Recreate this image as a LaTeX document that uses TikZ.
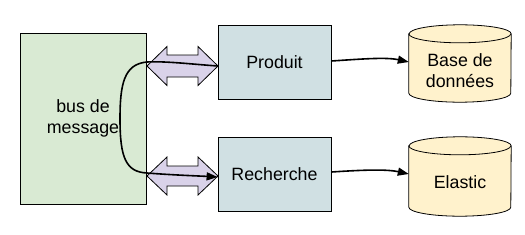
\documentclass[tikz,border=0pt]{standalone}
\usepackage{fontspec}
\setmainfont{Liberation Sans}
\usetikzlibrary{arrows.meta,calc}
\definecolor{busgreen}{HTML}{D9EAD3}
\definecolor{svcblue}{HTML}{D0E0E3}
\definecolor{dbyellow}{HTML}{FFF2CC}
\definecolor{lavender}{HTML}{D9D2E9}
\begin{document}
\begin{tikzpicture}[x=1pt,y=1pt,
  font=\fontsize{17.8}{21}\selectfont,
  box/.style={draw=black, line width=0.8pt, align=center, inner sep=0pt},
  cylbox/.style={minimum width=102pt, inner sep=0pt},
  lbl/.style={align=center, inner sep=0pt},
  cyl/.style={draw=black, line width=0.8pt, fill=dbyellow},
  dblarrow/.style={draw=black, line width=0.8pt, fill=lavender, line join=miter},
  conn/.style={line width=1.6pt, -{Triangle[length=11pt,width=8pt]}},
  link/.style={line width=1.6pt}]
\useasboundingbox (0,0) rectangle (525,234);
\fill[white] (0,0) rectangle (525,234);

% boxes
\node[box, fill=busgreen, minimum width=126pt, minimum height=171pt] (bus) at (83,115.5) {bus de\\message};
\node[box, fill=svcblue, minimum width=113pt, minimum height=74pt] (prod) at (274.5,172) {Produit};
\node[box, fill=svcblue, minimum width=113pt, minimum height=74pt] (rech) at (274.5,60) {Recherche};

% cylinders
\node[cylbox, minimum height=77pt] (db) at (460,170.5) {};
\node[cylbox, minimum height=79pt] (el) at (460,57.5) {};
\foreach \c in {db,el}{
  \draw[cyl] ($(\c.north west)+(0,-9)$) -- ($(\c.south west)+(0,9)$)
    arc[start angle=180, end angle=360, x radius=51, y radius=9]
    -- ($(\c.north east)+(0,-9)$)
    arc[start angle=0, end angle=180, x radius=51, y radius=9] -- cycle;
  \draw[cyl, fill=none] ($(\c.north west)+(0,-9)$)
    arc[start angle=180, end angle=360, x radius=51, y radius=9];
}
\node[lbl] (dbtext) at ($(db.center)+(0,-7.5)$) {Base de\\données};
\node[lbl] (eltext) at ($(el.center)+(0,-5.5)$) {Elastic};

% double arrows
\draw[dblarrow] (147,168) -- (167,187.5) -- (167,179) -- (198,179) -- (198,187.5) -- (218,168)
  -- (198,148.5) -- (198,157) -- (167,157) -- (167,148.5) -- cycle;
\draw[dblarrow] (147,58) -- (167,77) -- (167,68) -- (198,68) -- (198,77) -- (218,58)
  -- (198,39) -- (198,48) -- (167,48) -- (167,39) -- cycle;

% bus curve
\draw[conn] ([yshift=-4pt]prod.west) .. controls (190,170) and (165,173) .. (147,172)
  .. controls (124,170) and (120,150) .. (120,115)
  .. controls (120,76) and (126,62) .. (147,61)
  .. controls (172,59) and (200,58) .. ([yshift=-3pt]rech.west);

% connectors to storage
\draw[conn] ([yshift=1pt]prod.east) .. controls (362,175) and (386,177) .. ([yshift=1.5pt]db.west);
\draw[conn] ([yshift=2pt]rech.east) .. controls (362,64) and (386,65) .. ([yshift=2.5pt]el.west);
\end{tikzpicture}
\end{document}
